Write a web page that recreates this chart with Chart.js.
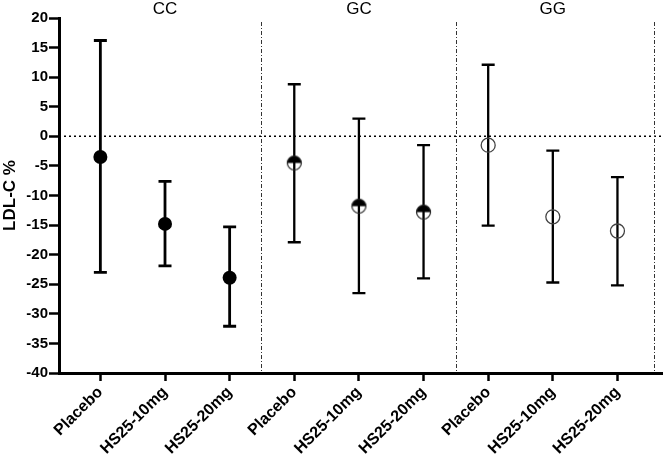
<!DOCTYPE html>
<html>
<head>
<meta charset="utf-8">
<script src="https://cdn.jsdelivr.net/npm/chart.js@4"></script>
<style>
  html, body { margin: 0; padding: 0; background: #fff; }
</style>
</head>
<body>
<canvas id="graficoLdl" width="671" height="457"></canvas>
<script>
/* Dados do gráfico */
const categorias = ['Placebo', 'HS25-10mg', 'HS25-20mg'];
const grupos = ['CC', 'GC', 'GG'];

const mediaCC = [-3.5, -14.8, -23.9];
const superiorCC = [16.2, -7.6, -15.3];
const inferiorCC = [-23.0, -21.9, -32.1];

const mediaGC = [-4.5, -11.8, -12.8];
const superiorGC = [8.8, 3.0, -1.5];
const inferiorGC = [-17.9, -26.5, -24.0];

const mediaGG = [-1.5, -13.6, -16.0];
const superiorGG = [12.1, -2.4, -6.9];
const inferiorGG = [-15.1, -24.7, -25.2];

const divisorias = [2.48, 5.5, 8.57];
const ticksY = [20, 15, 10, 5, 0, -5, -10, -15, -20, -25, -30, -35, -40];

const fonte = '"Liberation Sans", Arial, sans-serif';

/* Monta os pontos de um grupo (posição x = índice global da categoria) */
function montaPontos(indiceGrupo, media, superior, inferior) {
  return media.map((valor, i) => ({
    x: indiceGrupo * categorias.length + i,
    y: valor,
    yMax: superior[i],
    yMin: inferior[i]
  }))
}

/* Marcador meio preenchido para o grupo GC (metade de baixo vazada) */
function marcadorMeio() {
  const c = document.createElement('canvas')
  c.width = 17
  c.height = 17
  const ctx = c.getContext('2d')
  const r = 7
  ctx.fillStyle = '#000'
  ctx.beginPath()
  ctx.arc(8.5, 8.5, r, Math.PI, Math.PI * 2)
  ctx.closePath()
  ctx.fill()
  ctx.strokeStyle = '#222'
  ctx.lineWidth = 1.2
  ctx.beginPath()
  ctx.arc(8.5, 8.5, r, 0, Math.PI * 2)
  ctx.stroke()
  return c
}

/* Barras de erro, linha do zero, divisórias e rótulos dos grupos */
const extras = {
  id: 'extras',
  beforeDatasetsDraw(chart) {
    const { ctx, chartArea, scales } = chart
    const x = scales.x, y = scales.y
    ctx.save()
    // linha pontilhada no zero
    ctx.strokeStyle = '#000'
    ctx.lineWidth = 1.5
    ctx.setLineDash([2, 3])
    ctx.beginPath()
    ctx.moveTo(chartArea.left, y.getPixelForValue(0))
    ctx.lineTo(chartArea.right, y.getPixelForValue(0))
    ctx.stroke()
    // divisórias traço-ponto
    ctx.lineWidth = 1
    ctx.strokeStyle = '#333'
    ctx.setLineDash([4, 2, 1, 2])
    divisorias.forEach(d => {
      const px = Math.round(x.getPixelForValue(d)) + 0.5
      ctx.beginPath()
      ctx.moveTo(px, chartArea.top + 4)
      ctx.lineTo(px, chartArea.bottom)
      ctx.stroke()
    })
    ctx.setLineDash([])
    // barras de erro
    chart.data.datasets.forEach(ds => {
      ctx.lineWidth = ds.larguraBarra
      ctx.strokeStyle = '#000'
      ds.data.forEach(p => {
        const px = x.getPixelForValue(p.x)
        const top = y.getPixelForValue(p.yMax)
        const bot = y.getPixelForValue(p.yMin)
        ctx.beginPath()
        ctx.moveTo(px, top)
        ctx.lineTo(px, bot)
        ctx.moveTo(px - 6.5, top)
        ctx.lineTo(px + 6.5, top)
        ctx.moveTo(px - 6.5, bot)
        ctx.lineTo(px + 6.5, bot)
        ctx.stroke()
      })
    })
    // rótulos dos grupos
    ctx.fillStyle = '#000'
    ctx.font = '17px ' + fonte
    ctx.textAlign = 'center'
    ctx.textBaseline = 'middle'
    grupos.forEach((g, i) => {
      ctx.fillText(g, x.getPixelForValue(i * categorias.length + 1), 9)
    })
    ctx.restore()
  }
}

const graficoLdl = document.getElementById('graficoLdl')
const grafico = new Chart(graficoLdl, {
  type: 'scatter',
  data: {
    datasets: [{
      label: 'CC',
      data: montaPontos(0, mediaCC, superiorCC, inferiorCC),
      pointStyle: 'circle',
      pointRadius: 7,
      backgroundColor: '#000',
      borderColor: '#000',
      borderWidth: 0,
      larguraBarra: 2.8
    }, {
      label: 'GC',
      data: montaPontos(1, mediaGC, superiorGC, inferiorGC),
      pointStyle: marcadorMeio(),
      larguraBarra: 2.3
    }, {
      label: 'GG',
      data: montaPontos(2, mediaGG, superiorGG, inferiorGG),
      pointStyle: 'circle',
      pointRadius: 7,
      backgroundColor: 'rgba(0,0,0,0)',
      borderColor: '#444',
      borderWidth: 1.3,
      larguraBarra: 2.3
    }]
  },
  options: {
    responsive: false,
    animation: false,
    layout: { padding: { top: 18, right: 1, left: 0, bottom: 0 } },
    plugins: { legend: { display: false }, tooltip: { enabled: false } },
    scales: {
      x: {
        type: 'linear',
        min: -0.64,
        max: 8.70,
        afterBuildTicks: s => {
          s.ticks = []
          for (let i = 0; i < grupos.length * categorias.length; i++) s.ticks.push({ value: i })
        },
        afterFit: s => { s.height = 84 },
        border: { display: true, color: '#000', width: 3 },
        grid: { drawOnChartArea: false, drawTicks: true, tickLength: 8, tickWidth: 2.5, tickColor: '#000' },
        ticks: {
          autoSkip: false,
          minRotation: 45,
          maxRotation: 45,
          padding: 2,
          color: '#000',
          font: { family: fonte, size: 16, weight: 'bold' },
          callback: v => categorias[v % categorias.length]
        }
      },
      y: {
        min: -40,
        max: 20,
        afterBuildTicks: s => { s.ticks = ticksY.map(v => ({ value: v })) },
        afterFit: s => { s.width = 59 },
        border: { display: true, color: '#000', width: 3 },
        grid: { drawOnChartArea: false, drawTicks: true, tickLength: 10, tickWidth: 2.5, tickColor: '#000' },
        title: {
          display: true,
          text: 'LDL-C %',
          color: '#000',
          padding: { top: 0, bottom: 0 },
          font: { family: fonte, size: 17, weight: 'bold' }
        },
        ticks: {
          padding: 1,
          color: '#000',
          font: { family: fonte, size: 15, weight: 'bold' }
        }
      }
    }
  },
  plugins: [extras]
})
</script>
</body>
</html>
